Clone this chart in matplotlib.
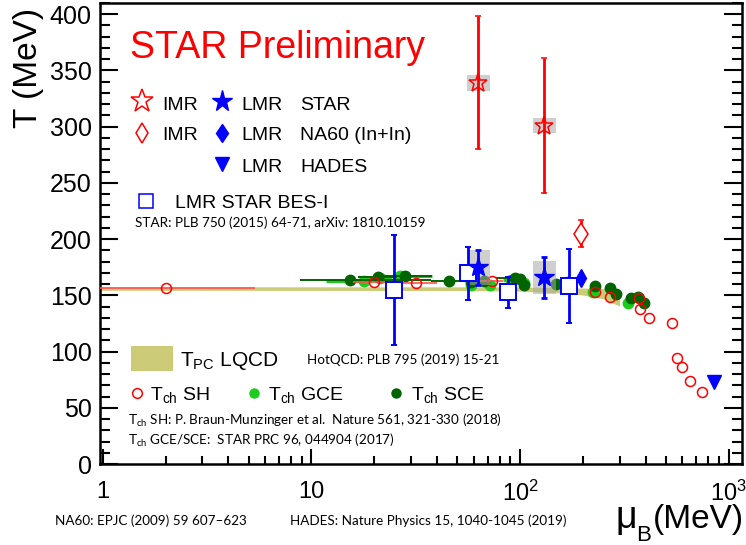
import numpy as np
import matplotlib
matplotlib.use('Agg')
import matplotlib.pyplot as plt
from matplotlib.patches import Rectangle
from matplotlib.ticker import FixedLocator, FixedFormatter, MultipleLocator, NullFormatter

plt.rcParams['font.family'] = ['Liberation Sans', 'DejaVu Sans']
plt.rcParams['mathtext.fontset'] = 'custom'
plt.rcParams['mathtext.rm'] = 'Liberation Sans'

# --- data (mu_B in MeV, T in MeV) ---
# IMR, STAR (open stars, stat + sys)
imr_star_mu = [63, 131]
imr_star_T = [339, 301]
imr_star_stat = [59, 60]
imr_star_sys = [7, 7]

# IMR, NA60 (In+In)
imr_na60_mu = [195]
imr_na60_T = [205]
imr_na60_stat = [12]

# LMR, STAR
lmr_star_mu = [63, 131]
lmr_star_T = [175, 166]
lmr_star_stat = [15.5, 18.5]
lmr_star_sys = [15.5, 14.5]

# LMR, NA60 and HADES
lmr_na60_mu = [195]
lmr_na60_T = [165]
lmr_hades_mu = [848]
lmr_hades_T = [72.5]

# LMR, STAR BES-I
bes_mu = [25, 56, 88, 171]
bes_T = [154.7, 169.5, 152.6, 158.2]
bes_err = [49, 23.8, 13.7, 33]

# chemical freeze-out, statistical hadronization
sh_mu = [2.0, 19.9, 31.8, 73.6, 228, 269, 370, 375, 415, 533, 565, 597, 650, 743]
sh_T = [156.6, 162, 161.2, 163, 153.3, 148.3, 147.5, 137.6, 129.8, 125.5, 94.2, 86, 74, 64]
sh_mu_lo = [1.1, 4, 6, 10, 0, 0, 0, 0, 0, 0, 0, 0, 0, 0]
sh_mu_hi = [3.35, 8, 8, 9, 0, 0, 0, 0, 0, 0, 0, 0, 0, 0]

# chemical freeze-out, STAR GCE
gce_mu = [17.8, 21.2, 26.7, 58, 71.5, 90.6, 105, 171, 225, 330]
gce_T = [163, 165.5, 167.3, 159.5, 159.5, 163.5, 161, 160, 153.3, 143]
gce_mu_lo = [6, 3, 2, 0, 4, 8, 0, 0, 0, 0]
gce_mu_hi = [2, 3, 11, 0, 4, 4, 0, 0, 0, 0]

# chemical freeze-out, STAR SCE
sce_mu = [15.3, 20.8, 28, 45.5, 58, 67.5, 95, 99.5, 104, 148, 170, 230, 269, 287, 341, 367, 392]
sce_T = [163.5, 166.5, 167.3, 163, 162, 162.5, 165, 164.5, 159.5, 160.5, 161.5, 158.5,
         156.7, 151, 147.3, 148.2, 143.4]
sce_mu_lo = [6.5, 4, 6, 8, 0, 0, 18, 0, 0, 0, 0, 0, 0, 0, 0, 0, 0]
sce_mu_hi = [22, 5, 10, 12, 0, 0, 0, 0, 0, 0, 0, 0, 0, 0, 0, 0, 0]

# HotQCD pseudo-critical temperature band
band_mu = [0.9, 50, 100, 150, 200, 250, 300]
band_hi = [157.6, 157.6, 157.4, 157.0, 156.5, 156.0, 155.0]
band_lo = [154.5, 154.3, 153.7, 152.3, 150.3, 147.0, 140.5]

xtick_vals = [1, 10, 100, 1000]
xtick_labels = ['1', '10', r'$\mathregular{10^{2}}$', r'$\mathregular{10^{3}}$']

# --- colours ---
RED = '#ff0000'
BLUE = '#0000ff'
LGREEN = '#1ccc1c'
DGREEN = '#006400'
OLIVE = '#cccc78'
GRAY = '#a8a8a8'

W, H = 746, 545
fig = plt.figure(figsize=(W / 100, H / 100), dpi=100)
ax = fig.add_axes([100 / W, 1 - 464 / H, 642 / W, 461 / H])


def fx(px):
    return px / W


def fy(py):
    return 1 - py / H


# LQCD band
ax.fill_between(band_mu, band_lo, band_hi, color=OLIVE, lw=0, zorder=1)

# green freeze-out points
ax.errorbar(gce_mu, gce_T, xerr=[gce_mu_lo, gce_mu_hi], fmt='o', color=LGREEN, ms=7.5,
            mec=LGREEN, elinewidth=2.2, capsize=0, zorder=2)
ax.errorbar(sce_mu, sce_T, xerr=[sce_mu_lo, sce_mu_hi], fmt='o', color=DGREEN, ms=7.5,
            mec=DGREEN, elinewidth=1.4, capsize=0, zorder=3)

# SH points
ax.errorbar(sh_mu, sh_T, xerr=[sh_mu_lo, sh_mu_hi], fmt='o', color=RED, mfc='none',
            mec=RED, ms=7.2, mew=1.1, elinewidth=1.2, ecolor='#ff5050', capsize=0, zorder=4)

# sys boxes
w = 10 ** 0.055
for mu, T, s in zip(imr_star_mu + lmr_star_mu, imr_star_T + lmr_star_T, imr_star_sys + lmr_star_sys):
    ax.add_patch(Rectangle((mu / w, T - s), mu * w - mu / w, 2 * s, facecolor=GRAY,
                           alpha=0.55, lw=0, zorder=5))

# IMR stars
ax.errorbar(imr_star_mu, imr_star_T, yerr=imr_star_stat, fmt='*', ms=14, mfc='none',
            mec=RED, mew=1.1, ecolor=RED, elinewidth=2, capsize=2.5, capthick=2, zorder=6)
ax.errorbar(imr_na60_mu, imr_na60_T, yerr=imr_na60_stat, fmt='d', ms=11.5, mfc='white',
            mec=RED, mew=1.1, ecolor=RED, elinewidth=2, capsize=2.5, capthick=2, zorder=6)

# BES-I squares
ax.errorbar(bes_mu, bes_T, yerr=bes_err, fmt='s', ms=11, mfc='white', mec=BLUE, mew=1.4,
            ecolor=BLUE, elinewidth=2, capsize=2.5, capthick=2, zorder=7)

# LMR filled points
ax.errorbar(lmr_star_mu, lmr_star_T, yerr=lmr_star_stat, fmt='*', ms=15, color=BLUE,
            ecolor=BLUE, elinewidth=2, capsize=2.5, capthick=2, zorder=8)
ax.plot(lmr_na60_mu, lmr_na60_T, 'd', ms=9, color=BLUE, zorder=8)
ax.plot(lmr_hades_mu, lmr_hades_T, 'v', ms=10, color=BLUE, zorder=8)

# axes
ax.set_xscale('log')
ax.set_xlim(0.968, 1160)
ax.set_ylim(0, 410)
ax.xaxis.set_major_locator(FixedLocator(xtick_vals))
ax.xaxis.set_major_formatter(FixedFormatter(xtick_labels))
ax.xaxis.set_minor_locator(FixedLocator([m * 10 ** d for d in range(3) for m in range(2, 10)]))
ax.xaxis.set_minor_formatter(NullFormatter())
ax.yaxis.set_major_locator(MultipleLocator(50))
ax.yaxis.set_minor_locator(MultipleLocator(10))
ax.tick_params(axis='y', which='both', direction='in', left=True, right=True, labelsize=18, pad=6)
ax.tick_params(axis='y', which='major', length=13, width=1.5)
ax.tick_params(axis='y', which='minor', length=7, width=1.5)
ax.tick_params(axis='x', which='both', direction='in', top=False, labelsize=17, pad=12)
ax.tick_params(axis='x', which='major', length=11, width=1.5)
ax.tick_params(axis='x', which='minor', length=6, width=1.5)
for sp in ax.spines.values():
    sp.set_linewidth(1.8)

fig.text(fx(29), fy(8), 'T (MeV)', rotation=90, ha='center', va='top', fontsize=24)
fig.text(fx(615), fy(528), 'μ', fontsize=27, ha='left', va='baseline')
fig.text(fx(636), fy(541), 'B', fontsize=16, ha='left', va='baseline')
fig.text(fx(744), fy(528), '(MeV)', fontsize=24, ha='right', va='baseline')

# legend text and keys
fig.text(fx(130), fy(58), 'STAR Preliminary', color=RED, fontsize=27, va='baseline')


def key(px, py, **kw):
    ax.plot([fx(px)], [fy(py)], transform=fig.transFigure, clip_on=False, **kw)


def label(px, py, s, size=14, **kw):
    fig.text(fx(px), fy(py), s, fontsize=size, va='baseline', **kw)


key(142, 101, marker='*', ms=17, mfc='none', mec=RED, mew=1.1, ls='none')
key(142, 133, marker='d', ms=10.5, mfc='none', mec=RED, mew=1.1, ls='none')
key(222, 101, marker='*', ms=15.5, color=BLUE, ls='none')
key(222, 133, marker='d', ms=9.5, color=BLUE, ls='none')
key(222, 164, marker='v', ms=10, color=BLUE, ls='none')
key(146, 201, marker='s', ms=10.5, mfc='none', mec=BLUE, mew=1.1, ls='none')
for py in (110, 140):
    label(162, py, 'IMR')
for py in (110, 140, 172):
    label(241, py, 'LMR')
label(300, 110, 'STAR')
label(300, 140, 'NA60 (In+In)')
label(300, 172, 'HADES')
label(175, 208, 'LMR STAR BES-I')

SMALL = dict(family=['Lato', 'DejaVu Sans'], size=9.7)
label(135, 227, 'STAR: PLB 750 (2015) 64-71, arXiv: 1810.10159', **SMALL)

fig.patches.append(Rectangle((fx(131), fy(371)), fx(42), 25 / H, facecolor=OLIVE, lw=0,
                             transform=fig.transFigure, figure=fig))
label(180, 366, r'$\mathregular{T_{PC}}$ LQCD', size=15)
label(307, 363.5, 'HotQCD: PLB 795 (2019) 15-21', **SMALL)

key(137, 393, marker='o', ms=7, mfc='none', mec=RED, mew=1.1, ls='none')
key(254, 393, marker='o', ms=6.5, color=LGREEN, ls='none')
key(396, 393, marker='o', ms=6.5, color=DGREEN, ls='none')
label(150, 400, r'$\mathregular{T_{ch}}$ SH')
label(268, 400, r'$\mathregular{T_{ch}}$ GCE')
label(411, 400, r'$\mathregular{T_{ch}}$ SCE')
label(128, 425, r'$\mathregular{T_{ch}}$ SH: P. Braun-Munzinger et al.  Nature 561, 321-330 (2018)', **SMALL)
label(128, 445, r'$\mathregular{T_{ch}}$ GCE/SCE:  STAR PRC 96, 044904 (2017)', **SMALL)

label(55, 525, 'NA60: EPJC (2009) 59 607–623', **SMALL)
label(290, 525, 'HADES: Nature Physics 15, 1040-1045 (2019)', **SMALL)

fig.savefig('out.png', dpi=100)
